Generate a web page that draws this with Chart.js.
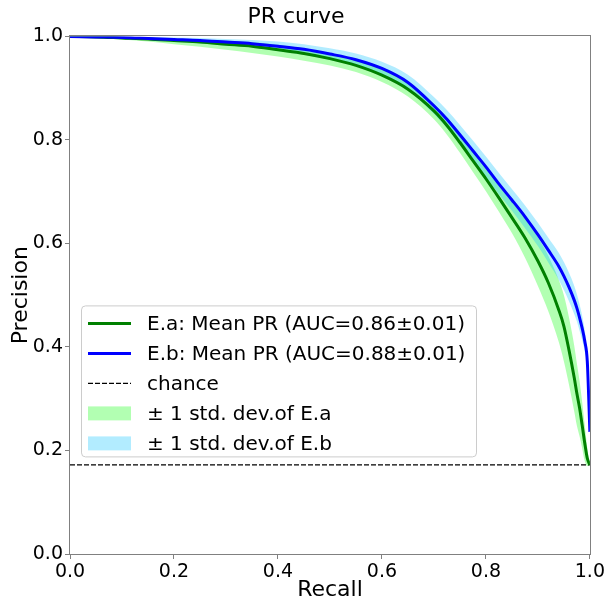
<!DOCTYPE html>
<html>
<head>
<meta charset="utf-8">
<script src="https://cdn.jsdelivr.net/npm/chart.js@4.4.0/dist/chart.umd.min.js"></script>
<style>
  html, body { margin: 0; padding: 0; background: #fff; }
  #wrap { width: 607px; height: 604px; }
</style>
</head>
<body>
<div id="wrap"><canvas id="prChart" width="607" height="604"></canvas></div>
<script>
// recall grid shared by both mean curves and their bands
const recall = [0, 0.05, 0.1, 0.15, 0.2, 0.25, 0.3, 0.35, 0.4, 0.45, 0.5, 0.55, 0.6, 0.65, 0.7, 0.725, 0.75, 0.775, 0.8, 0.825, 0.85, 0.875, 0.9, 0.92, 0.94, 0.95, 0.96, 0.97, 0.975, 0.98, 0.985, 0.99, 0.995, 1.0];

// E.a (green)
const eaMean = [1.0, 0.999, 0.997, 0.995, 0.992, 0.989, 0.985, 0.981, 0.974, 0.967, 0.957, 0.944, 0.925, 0.898, 0.856, 0.828, 0.795, 0.760, 0.725, 0.688, 0.650, 0.611, 0.566, 0.524, 0.472, 0.440, 0.393, 0.340, 0.310, 0.283, 0.250, 0.215, 0.185, 0.172];
const eaLow  = [1.0, 0.997, 0.994, 0.990, 0.985, 0.980, 0.974, 0.968, 0.961, 0.953, 0.944, 0.931, 0.912, 0.884, 0.840, 0.810, 0.775, 0.738, 0.701, 0.661, 0.620, 0.573, 0.518, 0.469, 0.410, 0.372, 0.326, 0.275, 0.248, 0.228, 0.205, 0.180, 0.170, 0.172];
const eaHigh = [1.0, 1.0, 0.999, 0.998, 0.996, 0.994, 0.992, 0.989, 0.984, 0.977, 0.968, 0.956, 0.938, 0.911, 0.870, 0.844, 0.813, 0.780, 0.748, 0.713, 0.680, 0.649, 0.612, 0.576, 0.530, 0.500, 0.456, 0.402, 0.368, 0.335, 0.295, 0.250, 0.205, 0.172];

// E.b (blue)
const ebMean = [1.0, 0.999, 0.998, 0.996, 0.994, 0.992, 0.989, 0.986, 0.981, 0.975, 0.966, 0.955, 0.938, 0.911, 0.866, 0.840, 0.810, 0.779, 0.748, 0.715, 0.684, 0.652, 0.617, 0.587, 0.556, 0.537, 0.515, 0.490, 0.475, 0.457, 0.437, 0.412, 0.372, 0.236];
const ebLow  = [1.0, 0.998, 0.996, 0.993, 0.990, 0.987, 0.983, 0.979, 0.972, 0.965, 0.955, 0.943, 0.925, 0.897, 0.850, 0.823, 0.792, 0.760, 0.728, 0.695, 0.663, 0.630, 0.595, 0.563, 0.530, 0.510, 0.488, 0.463, 0.449, 0.432, 0.414, 0.392, 0.357, 0.236];
const ebHigh = [1.0, 1.0, 1.0, 0.999, 0.998, 0.997, 0.995, 0.993, 0.990, 0.985, 0.977, 0.967, 0.951, 0.926, 0.883, 0.858, 0.829, 0.799, 0.768, 0.736, 0.705, 0.674, 0.640, 0.611, 0.582, 0.564, 0.543, 0.518, 0.502, 0.483, 0.461, 0.432, 0.387, 0.236];

// chance level
const chanceRecall = [0, 1];
const chanceLevel = [0.172, 0.172];

const labels = {
  ea: 'E.a: Mean PR (AUC=0.86±0.01)',
  eb: 'E.b: Mean PR (AUC=0.88±0.01)',
  chance: 'chance',
  eaBand: '± 1 std. dev.of E.a',
  ebBand: '± 1 std. dev.of E.b'
};

const FONT = 'DejaVu Sans';

function pts(xs, ys) {
  return xs.map((x, i) => ({ x: x, y: ys[i] }));
}

const lineBase = { pointRadius: 0, fill: false, cubicInterpolationMode: 'monotone' };

const datasets = [
  { ...lineBase, label: labels.eb, data: pts(recall, ebMean), borderColor: 'blue', borderWidth: 3, kind: 'line' },
  { ...lineBase, label: labels.ea, data: pts(recall, eaMean), borderColor: 'green', borderWidth: 3, kind: 'line' },
  { ...lineBase, label: labels.chance, data: pts(chanceRecall, chanceLevel), borderColor: 'black', borderWidth: 1.3, borderDash: [5, 2], kind: 'line' },
  { ...lineBase, label: labels.ebBand, data: pts(recall, ebHigh), borderWidth: 0, fill: '+1', backgroundColor: 'rgba(0,191,255,0.3)', kind: 'band' },
  { ...lineBase, label: '', data: pts(recall, ebLow), borderWidth: 0 },
  { ...lineBase, label: labels.eaBand, data: pts(recall, eaHigh), borderWidth: 0, fill: '+1', backgroundColor: 'rgba(0,255,0,0.3)', kind: 'band' },
  { ...lineBase, label: '', data: pts(recall, eaLow), borderWidth: 0 }
];

const legendOrder = [1, 0, 2, 5, 3];

// frame + legend box inside the plot, lower left
const frameAndLegend = {
  id: 'frameAndLegend',
  afterDatasetsDraw(chart) {
    const ctx = chart.ctx;
    const a = chart.chartArea;
    ctx.save();
    ctx.strokeStyle = '#808080';
    ctx.lineWidth = 1;
    ctx.strokeRect(Math.round(a.left) - 0.5, Math.round(a.top) - 0.5, Math.round(a.width) + 1, Math.round(a.height) + 1);

    const bx = a.left + 11, by = a.top + 269, bw = 395, bh = 151;
    ctx.beginPath();
    ctx.roundRect(bx + 0.5, by + 0.5, bw, bh, 4);
    ctx.fillStyle = 'rgba(255,255,255,0.8)';
    ctx.fill();
    ctx.strokeStyle = '#cccccc';
    ctx.stroke();

    ctx.font = '20px "' + FONT + '"';
    ctx.textBaseline = 'middle';
    legendOrder.forEach((idx, i) => {
      const ds = chart.data.datasets[idx];
      const y = by + 18 + i * 30;
      const x0 = bx + 7, x1 = bx + 50;
      if (ds.kind === 'line') {
        ctx.beginPath();
        ctx.setLineDash(ds.borderDash || []);
        ctx.lineWidth = ds.borderWidth;
        ctx.strokeStyle = ds.borderColor;
        ctx.moveTo(x0, y);
        ctx.lineTo(x1, y);
        ctx.stroke();
        ctx.setLineDash([]);
      } else {
        ctx.fillStyle = ds.backgroundColor;
        ctx.fillRect(x0, y - 7, x1 - x0, 14);
      }
      ctx.fillStyle = '#000';
      ctx.fillText(ds.label, bx + 66, y + 1);
    });
    ctx.restore();
  }
};

const axisCommon = {
  type: 'linear',
  min: 0,
  max: 1,
  border: { display: false },
  grid: { drawOnChartArea: false, drawTicks: true, tickLength: 5, color: '#808080' },
  ticks: {
    stepSize: 0.2,
    color: '#000',
    font: { family: FONT, size: 19 },
    callback: v => v.toFixed(1)
  }
};

new Chart(document.getElementById('prChart'), {
  type: 'line',
  data: { datasets: datasets },
  options: {
    responsive: false,
    animation: false,
    layout: { padding: { left: 0, right: 15, top: 0, bottom: 0 } },
    plugins: {
      legend: { display: false },
      tooltip: { enabled: false },
      title: {
        display: true,
        text: 'PR curve',
        color: '#000',
        font: { family: FONT, size: 22, weight: 'normal' },
        padding: { top: 4, bottom: 6 }
      }
    },
    scales: {
      x: {
        ...axisCommon,
        ticks: { ...axisCommon.ticks, padding: 2, maxRotation: 0 },
        title: { display: true, text: 'Recall', color: '#000', font: { family: FONT, size: 22 }, padding: { top: 0, bottom: 1 } },
        afterFit: s => { s.height = 50; }
      },
      y: {
        ...axisCommon,
        ticks: { ...axisCommon.ticks, padding: 2 },
        title: { display: true, text: 'Precision', color: '#000', font: { family: FONT, size: 22 }, padding: { top: 8, bottom: 0 } },
        afterFit: s => { s.width = 70; }
      }
    }
  },
  plugins: [frameAndLegend]
});
</script>
</body>
</html>
